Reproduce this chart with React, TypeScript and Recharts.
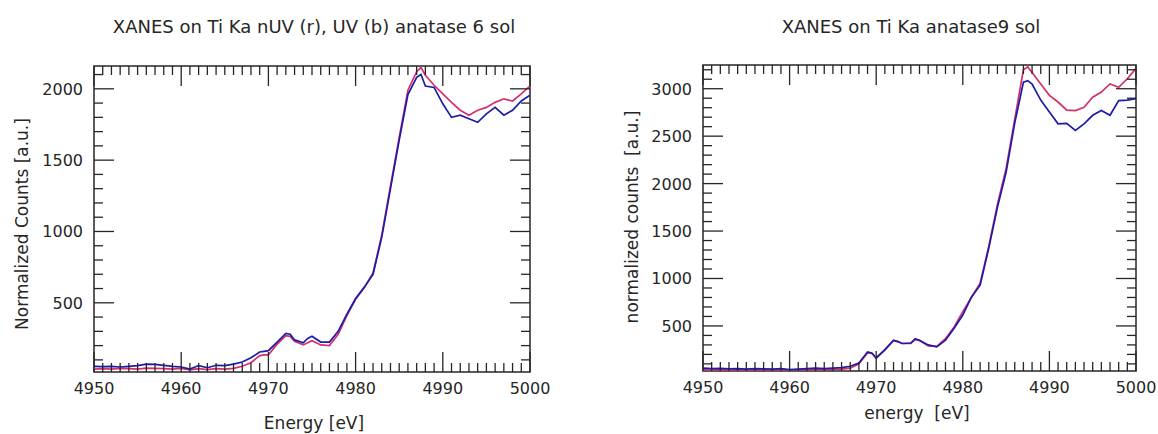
import React from "react";
import { LineChart, Line, XAxis, YAxis, ReferenceArea } from "recharts";

// photon energy [eV]
const energy = [
  4950, 4951, 4952, 4953, 4954, 4955, 4956, 4957, 4958, 4959, 4960, 4961, 4962, 4963,
  4964, 4965, 4966, 4967, 4968, 4969, 4969.5, 4970, 4971, 4972, 4972.5, 4973, 4974,
  4974.5, 4975, 4976, 4977, 4978, 4979, 4980, 4981, 4982, 4983, 4984, 4985, 4986, 4987,
  4987.5, 4988, 4989, 4990, 4991, 4992, 4993, 4994, 4995, 4996, 4997, 4998, 4999, 5000,
];

// anatase 6 sol: UV (b) and nUV (r)
const sol6Blue = [
  55, 52, 55, 50, 55, 60, 70, 68, 62, 55, 50, 35, 60, 45, 62, 60, 70, 85, 115, 155, 160,
  165, 225, 285, 280, 240, 220, 250, 265, 225, 225, 300, 420, 530, 610, 700, 960, 1300,
  1640, 1960, 2080, 2100, 2020, 2010, 1895, 1800, 1815, 1790, 1765, 1825, 1870, 1815,
  1850, 1915, 1955,
];
const sol6Red = [
  35, 38, 35, 40, 38, 35, 42, 40, 38, 35, 40, 30, 38, 32, 38, 35, 40, 55, 80, 130, 135,
  135, 210, 270, 265, 230, 205, 220, 235, 205, 200, 280, 410, 525, 605, 710, 975, 1320,
  1660, 1990, 2120, 2150, 2095, 2025, 1965, 1905, 1850, 1815, 1850, 1870, 1905, 1930,
  1915, 1965, 2020,
];

// anatase9 sol
const sol9Blue = [
  55, 50, 52, 48, 50, 45, 50, 48, 45, 50, 40, 45, 50, 55, 50, 55, 60, 75, 110, 225, 215,
  160, 250, 350, 335, 315, 320, 365, 350, 300, 280, 350, 475, 615, 805, 930, 1320, 1750,
  2120, 2640, 3070, 3085, 3050, 2880, 2755, 2630, 2635, 2560, 2630, 2720, 2770, 2720,
  2875, 2880, 2895,
];
const sol9Red = [
  38, 35, 40, 35, 38, 35, 38, 35, 40, 35, 38, 35, 40, 38, 40, 42, 45, 55, 100, 215, 210,
  165, 245, 345, 335, 315, 315, 355, 345, 290, 285, 365, 490, 650, 800, 950, 1340, 1780,
  2160, 2680, 3200, 3230, 3170, 3050, 2930, 2860, 2775, 2770, 2805, 2910, 2965, 3050,
  3015, 3105, 3215,
];

const xMajor = [4950, 4960, 4970, 4980, 4990, 5000];
const sol6YMajor = [500, 1000, 1500, 2000];
const sol9YMajor = [500, 1000, 1500, 2000, 2500, 3000];

const xTicks = Array.from({ length: 51 }, (_, i) => 4950 + i);
const sol6YTicks = Array.from({ length: 21 }, (_, i) => 100 + i * 100);
const sol9YTicks = Array.from({ length: 32 }, (_, i) => 100 + i * 100);

const FONT = "'DejaVu Sans', 'Liberation Sans', Arial, sans-serif";
const INK = "#262626";
const BLUE = "#1c1ca8";
const RED = "#d42f6f";

interface Plot {
  left: number;
  right: number;
  top: number;
  bottom: number;
}

const makeXTick = (plot: Plot) => (props: any) => {
  const { x, payload } = props;
  const v = payload.value;
  const major = xMajor.includes(v);
  const len = major ? 20 : 9;
  return (
    <g>
      <line x1={x} x2={x} y1={plot.bottom} y2={plot.bottom - len} stroke={INK} strokeWidth={1.3} />
      <line x1={x} x2={x} y1={plot.top} y2={plot.top + len} stroke={INK} strokeWidth={1.3} />
      {major && (
        <text x={x} y={plot.bottom + 22} textAnchor="middle" fontSize={16} fontFamily={FONT} fill={INK}>
          {v}
        </text>
      )}
    </g>
  );
};

const makeYTick = (plot: Plot, majors: number[]) => (props: any) => {
  const { y, payload } = props;
  const v = payload.value;
  const major = majors.includes(v);
  const len = major ? 20 : 9;
  return (
    <g>
      <line x1={plot.left} x2={plot.left + len} y1={y} y2={y} stroke={INK} strokeWidth={1.3} />
      <line x1={plot.right} x2={plot.right - len} y1={y} y2={y} stroke={INK} strokeWidth={1.3} />
      {major && (
        <text x={plot.left - 11} y={y + 6} textAnchor="end" fontSize={16} fontFamily={FONT} fill={INK}>
          {v}
        </text>
      )}
    </g>
  );
};

interface PanelProps {
  width: number;
  height: number;
  plot: Plot;
  blue: number[];
  red: number[];
  yDomain: [number, number];
  yTicks: number[];
  yMajor: number[];
}

function Panel({ width, height, plot, blue, red, yDomain, yTicks, yMajor }: PanelProps) {
  const data = energy.map((e, i) => ({ e, blue: blue[i], red: red[i] }));
  return (
    <LineChart
      width={width}
      height={height}
      data={data}
      margin={{ top: plot.top, right: width - plot.right, bottom: 0, left: 0 }}
    >
      <XAxis
        dataKey="e"
        type="number"
        domain={[4950, 5000]}
        ticks={xTicks}
        interval={0}
        height={height - plot.bottom}
        axisLine={false}
        tickLine={false}
        tick={makeXTick(plot)}
        allowDataOverflow
      />
      <YAxis
        type="number"
        domain={yDomain}
        ticks={yTicks}
        interval={0}
        width={plot.left}
        axisLine={false}
        tickLine={false}
        tick={makeYTick(plot, yMajor)}
        allowDataOverflow
      />
      <Line dataKey="red" stroke={RED} strokeWidth={1.7} dot={false} type="linear" isAnimationActive={false} />
      <Line dataKey="blue" stroke={BLUE} strokeWidth={1.7} dot={false} type="linear" isAnimationActive={false} />
      <ReferenceArea
        x1={4950}
        x2={5000}
        y1={yDomain[0]}
        y2={yDomain[1]}
        fill="none"
        stroke={INK}
        strokeWidth={1.5}
        ifOverflow="visible"
      />
    </LineChart>
  );
}

const textStyle: React.CSSProperties = {
  position: "absolute",
  fontFamily: FONT,
  color: INK,
  whiteSpace: "nowrap",
  transform: "translate(-50%, -50%)",
};

export default function App() {
  return (
    <div style={{ position: "absolute", left: 0, top: 0, width: 1158, height: 434, background: "#fff", overflow: "hidden" }}>
      <div style={{ position: "absolute", left: 0, top: 0 }}>
        <Panel
          width={580}
          height={434}
          plot={{ left: 94, right: 530, top: 66, bottom: 372 }}
          blue={sol6Blue}
          red={sol6Red}
          yDomain={[15, 2160]}
          yTicks={sol6YTicks}
          yMajor={sol6YMajor}
        />
      </div>
      <div style={{ position: "absolute", left: 580, top: 0 }}>
        <Panel
          width={578}
          height={434}
          plot={{ left: 123, right: 556, top: 65, bottom: 371 }}
          blue={sol9Blue}
          red={sol9Red}
          yDomain={[25, 3250]}
          yTicks={sol9YTicks}
          yMajor={sol9YMajor}
        />
      </div>

      <div style={{ ...textStyle, left: 314, top: 26, fontSize: 18 }}>
        XANES on Ti Ka nUV (r), UV (b) anatase 6 sol
      </div>
      <div style={{ ...textStyle, left: 911, top: 26, fontSize: 18 }}>XANES on Ti Ka anatase9 sol</div>

      <div style={{ ...textStyle, left: 314, top: 423, fontSize: 17 }}>Energy [eV]</div>
      <div style={{ ...textStyle, left: 917, top: 413, fontSize: 17 }}>energy&nbsp;&nbsp;[eV]</div>

      <div style={{ ...textStyle, left: 22, top: 224, fontSize: 17, transform: "translate(-50%, -50%) rotate(-90deg)" }}>
        Normalized Counts [a.u.]
      </div>
      <div style={{ ...textStyle, left: 632, top: 217, fontSize: 17, transform: "translate(-50%, -50%) rotate(-90deg)" }}>
        normalized counts&nbsp;&nbsp;[a.u.]
      </div>
    </div>
  );
}
